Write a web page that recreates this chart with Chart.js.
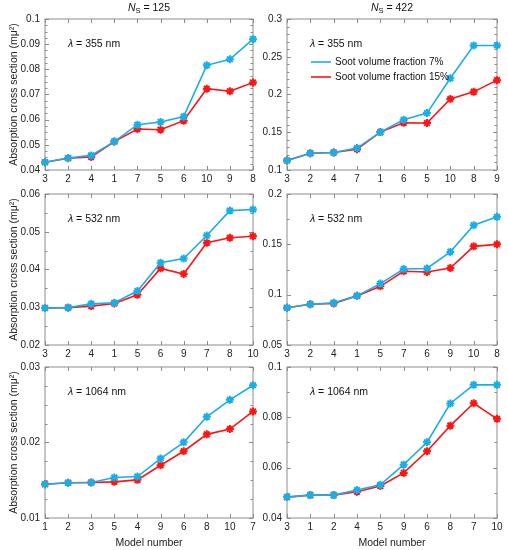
<!DOCTYPE html>
<html>
<head>
<meta charset="utf-8">
<script src="https://cdn.jsdelivr.net/npm/chart.js@4.4.1/dist/chart.umd.min.js"></script>
<style>
  body { margin: 0; background: #fff; }
  #wrap { position: relative; width: 508px; height: 550px; overflow: hidden; background: #fff; }
  #wrap canvas { position: absolute; }
</style>
</head>
<body>
<div id="wrap"></div>
<script>
// N_S = 125, lambda = 355 nm
const models_125_355 = [3, 2, 4, 1, 7, 5, 6, 10, 9, 8];
const frac7_125_355  = [0.0431, 0.0448, 0.0458, 0.0513, 0.0580, 0.0591, 0.0612, 0.0816, 0.0840, 0.0920];
const frac15_125_355 = [0.0431, 0.0447, 0.0452, 0.0513, 0.0563, 0.0560, 0.0596, 0.0723, 0.0713, 0.0748];
const yTicks_125_355 = [0.04, 0.05, 0.06, 0.07, 0.08, 0.09, 0.1];

// N_S = 422, lambda = 355 nm
const models_422_355 = [3, 2, 4, 7, 1, 6, 5, 10, 8, 9];
const frac7_422_355  = [0.1125, 0.1222, 0.1231, 0.1290, 0.1502, 0.1665, 0.1754, 0.2215, 0.2650, 0.2650];
const frac15_422_355 = [0.1125, 0.1222, 0.1231, 0.1275, 0.1502, 0.1625, 0.1622, 0.1940, 0.2035, 0.2190];
const yTicks_422_355 = [0.1, 0.15, 0.2, 0.25, 0.3];

// N_S = 125, lambda = 532 nm
const models_125_532 = [3, 2, 4, 1, 5, 6, 9, 7, 8, 10];
const frac7_125_532  = [0.0298, 0.0299, 0.0309, 0.0312, 0.0343, 0.0418, 0.0429, 0.0490, 0.0556, 0.0559];
const frac15_125_532 = [0.0298, 0.0299, 0.0303, 0.0310, 0.0333, 0.0403, 0.0388, 0.0471, 0.0484, 0.0488];
const yTicks_125_532 = [0.02, 0.03, 0.04, 0.05, 0.06];

// N_S = 422, lambda = 532 nm
const models_422_532 = [3, 2, 4, 1, 5, 7, 6, 9, 10, 8];
const frac7_422_532  = [0.0870, 0.0905, 0.0919, 0.0988, 0.1110, 0.1255, 0.1260, 0.1425, 0.1690, 0.1773];
const frac15_422_532 = [0.0870, 0.0905, 0.0912, 0.0988, 0.1083, 0.1232, 0.1225, 0.1265, 0.1480, 0.1500];
const yTicks_422_532 = [0.05, 0.1, 0.15, 0.2];

// N_S = 125, lambda = 1064 nm
const models_125_1064 = [1, 2, 3, 5, 4, 9, 6, 8, 10, 7];
const frac7_125_1064  = [0.01448, 0.01466, 0.01470, 0.01536, 0.01549, 0.01787, 0.02002, 0.02341, 0.02565, 0.02758];
const frac15_125_1064 = [0.01448, 0.01466, 0.01470, 0.01479, 0.01505, 0.01699, 0.01884, 0.02108, 0.02178, 0.02411];
const yTicks_125_1064 = [0.01, 0.02, 0.03];

// N_S = 422, lambda = 1064 nm
const models_422_1064 = [3, 1, 2, 4, 5, 9, 6, 8, 7, 10];
const frac7_422_1064  = [0.0483, 0.0491, 0.0491, 0.0511, 0.0532, 0.0612, 0.0701, 0.0855, 0.0929, 0.0929];
const frac15_422_1064 = [0.0483, 0.0491, 0.0491, 0.0504, 0.0527, 0.0579, 0.0665, 0.0767, 0.0856, 0.0794];
const yTicks_422_1064 = [0.04, 0.06, 0.08, 0.1];

const seriesLabels = ['Soot volume fraction 7%', 'Soot volume fraction 15%'];
const seriesColors = ['#1aaee9', '#ff1414'];

const FONT = "'Liberation Sans', Arial, Helvetica, sans-serif";
Chart.defaults.font.family = FONT;
Chart.defaults.font.size = 10;
Chart.defaults.color = '#222';

// frame, inward ticks and the in-plot texts
const framePlugin = {
    id: 'framePlugin',
    beforeDatasetsDraw(chart, args, opts) {
        const ctx = chart.ctx;
        const { left, right, top, bottom } = chart.chartArea;
        const xs = chart.scales.x, ys = chart.scales.y;
        ctx.save();
        ctx.strokeStyle = '#8c8c8c';
        ctx.lineWidth = 1;
        ctx.strokeRect(left, top, right - left, bottom - top);

        ctx.beginPath();
        xs.ticks.forEach((t, i) => {
            const px = Math.round(xs.getPixelForTick(i)) + 0.5;
            ctx.moveTo(px, bottom); ctx.lineTo(px, bottom - 4);
            ctx.moveTo(px, top); ctx.lineTo(px, top + 4);
        });
        ys.ticks.forEach(t => {
            const py = Math.round(ys.getPixelForValue(t.value)) + 0.5;
            ctx.moveTo(left, py); ctx.lineTo(left + 4, py);
            ctx.moveTo(right, py); ctx.lineTo(right - 4, py);
        });
        const n = Math.round((ys.max - ys.min) / opts.minor);
        for (let k = 1; k < n; k++) {
            const py = Math.round(ys.getPixelForValue(ys.min + k * opts.minor)) + 0.5;
            ctx.moveTo(left, py); ctx.lineTo(left + 2.5, py);
            ctx.moveTo(right, py); ctx.lineTo(right - 2.5, py);
        }
        ctx.stroke();
        ctx.restore();
    },
    afterDraw(chart, args, opts) {
        const ctx = chart.ctx;
        const { left, right, top } = chart.chartArea;
        ctx.save();
        ctx.fillStyle = '#111';
        ctx.textBaseline = 'middle';

        // wavelength label
        let x = left + 23, y = top + 25;
        ctx.font = 'italic 10.5px ' + FONT;
        ctx.fillText('λ', x, y);
        x += ctx.measureText('λ').width;
        ctx.font = '10.5px ' + FONT;
        ctx.fillText(' = ' + opts.lambda + ' nm', x, y);

        // column title N_S = ...
        if (opts.title) {
            const rest = ' = ' + opts.title;
            ctx.font = 'italic 10.5px ' + FONT;
            const wN = ctx.measureText('N').width;
            ctx.font = '7.5px ' + FONT;
            const wS = ctx.measureText('S').width;
            ctx.font = '10.5px ' + FONT;
            const wR = ctx.measureText(rest).width;
            let tx = (left + right) / 2 - (wN + wS + wR) / 2;
            const ty = top - 11;
            ctx.font = 'italic 10.5px ' + FONT;
            ctx.fillText('N', tx, ty);
            tx += wN;
            ctx.font = '7.5px ' + FONT;
            ctx.fillText('S', tx, ty + 3);
            tx += wS;
            ctx.font = '10.5px ' + FONT;
            ctx.fillText(rest, tx, ty);
        }

        // legend inside the plot
        if (opts.legend) {
            chart.data.datasets.forEach((ds, i) => {
                const ly = top + 43 + i * 15;
                ctx.strokeStyle = ds.borderColor;
                ctx.lineWidth = 1.6;
                ctx.beginPath();
                ctx.moveTo(left + 24, ly); ctx.lineTo(left + 44, ly);
                ctx.stroke();
                ctx.font = '10px ' + FONT;
                ctx.fillText(ds.label, left + 48, ly);
            });
        }
        ctx.restore();
    }
};

const cols = [
    { left: 0, width: 262, yWidth: 45, padRight: 9 },
    { left: 254, width: 254, yWidth: 33, padRight: 11 }
];
const rows = [
    { top: 0, xHeight: 20 },
    { top: 175, xHeight: 20 },
    { top: 348, xHeight: 32 }
];
const PAD_TOP = 19, PLOT_H = 151;

function makePanel(col, row, models, s7, s15, yTicks, minor, lambda, extra) {
    const c = cols[col], r = rows[row];
    const canvas = document.createElement('canvas');
    canvas.width = c.width;
    canvas.height = PAD_TOP + PLOT_H + r.xHeight;
    canvas.style.left = c.left + 'px';
    canvas.style.top = r.top + 'px';
    document.getElementById('wrap').appendChild(canvas);

    const values = [s7, s15];
    new Chart(canvas, {
        type: 'line',
        data: {
            labels: models.map(String),
            datasets: values.map((v, i) => ({
                label: seriesLabels[i],
                data: v,
                borderColor: seriesColors[i],
                backgroundColor: seriesColors[i],
                borderWidth: 1.6,
                pointStyle: 'star',
                pointRadius: 4,
                pointBorderWidth: 2,
                pointBackgroundColor: seriesColors[i],
                pointBorderColor: seriesColors[i],
                tension: 0,
                clip: false
            }))
        },
        options: {
            responsive: false,
            animation: false,
            layout: { padding: { top: PAD_TOP, right: c.padRight, left: 0, bottom: 0 } },
            plugins: {
                legend: { display: false },
                tooltip: { enabled: false },
                framePlugin: Object.assign({ minor: minor, lambda: lambda }, extra)
            },
            scales: {
                x: {
                    type: 'category',
                    offset: false,
                    grid: { display: false, drawTicks: false },
                    border: { display: false },
                    ticks: { autoSkip: false, maxRotation: 0, padding: 3, color: '#222' },
                    title: {
                        display: row === 2,
                        text: 'Model number',
                        font: { size: 10.5 },
                        color: '#222',
                        padding: { top: 0, bottom: 1 }
                    },
                    afterFit(scale) { scale.height = r.xHeight; }
                },
                y: {
                    min: yTicks[0],
                    max: yTicks[yTicks.length - 1],
                    grid: { display: false, drawTicks: false },
                    border: { display: false },
                    ticks: { padding: 5, color: '#222', callback: v => String(v) },
                    afterBuildTicks(scale) { scale.ticks = yTicks.map(v => ({ value: v })); },
                    title: {
                        display: col === 0,
                        text: 'Absorption cross section (mμ²)',
                        font: { size: 10.5 },
                        color: '#222',
                        padding: { top: 8, bottom: 0 }
                    },
                    afterFit(scale) { scale.width = c.yWidth; }
                }
            }
        },
        plugins: [framePlugin]
    });
}

makePanel(0, 0, models_125_355, frac7_125_355, frac15_125_355, yTicks_125_355, 0.0025, '355', { title: '125' });
makePanel(1, 0, models_422_355, frac7_422_355, frac15_422_355, yTicks_422_355, 0.01, '355', { title: '422', legend: true });
makePanel(0, 1, models_125_532, frac7_125_532, frac15_125_532, yTicks_125_532, 0.005, '532', {});
makePanel(1, 1, models_422_532, frac7_422_532, frac15_422_532, yTicks_422_532, 0.025, '532', {});
makePanel(0, 2, models_125_1064, frac7_125_1064, frac15_125_1064, yTicks_125_1064, 0.0025, '1064', {});
makePanel(1, 2, models_422_1064, frac7_422_1064, frac15_422_1064, yTicks_422_1064, 0.01, '1064', {});
</script>
</body>
</html>
